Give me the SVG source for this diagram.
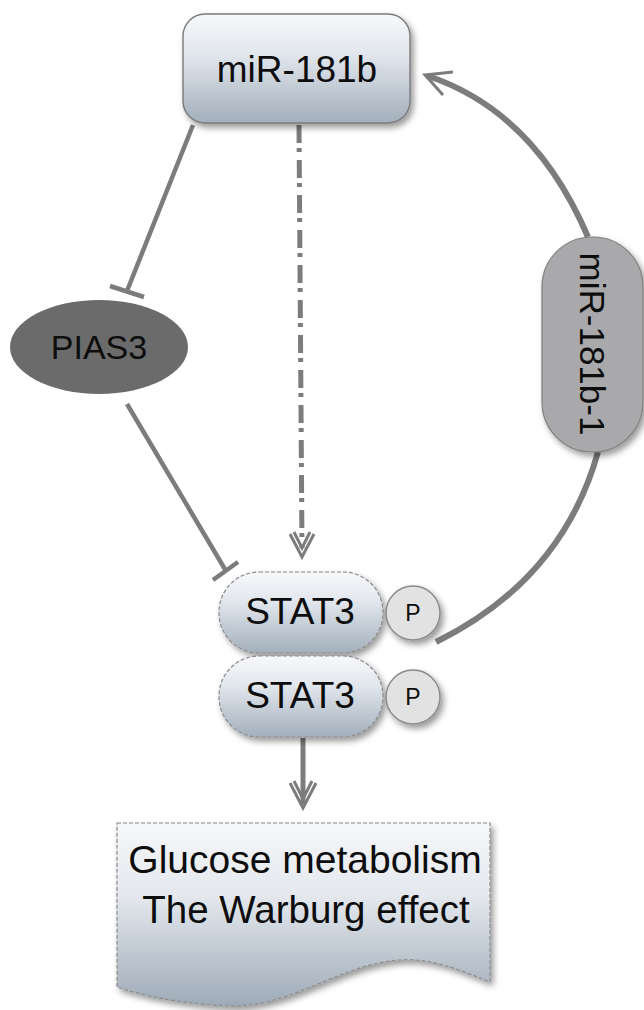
<svg xmlns="http://www.w3.org/2000/svg" width="644" height="1010" viewBox="0 0 644 1010">
  <defs>
    <linearGradient id="blueGrey" x1="0" y1="0" x2="0" y2="1">
      <stop offset="0" stop-color="#f7f8fa"/>
      <stop offset="0.35" stop-color="#e3e8ee"/>
      <stop offset="1" stop-color="#a3afbc"/>
    </linearGradient>
    <linearGradient id="docGrad" x1="0" y1="0" x2="0" y2="1">
      <stop offset="0" stop-color="#f6f7f9"/>
      <stop offset="0.4" stop-color="#e4e8ed"/>
      <stop offset="1" stop-color="#9eabb8"/>
    </linearGradient>
    <filter id="shadow" x="-20%" y="-20%" width="140%" height="150%">
      <feDropShadow dx="3" dy="4" stdDeviation="3" flood-color="#000" flood-opacity="0.4"/>
    </filter>
    <style>
      .lbl { font-family: "Liberation Sans", Arial, sans-serif; fill: #0d0d0d; text-anchor: middle; }
      .conn { fill: none; stroke: #7c7c7c; stroke-linecap: butt; }
      .head { fill: none; stroke: #7c7c7c; stroke-width: 3; stroke-linejoin: miter; }
      .stat { fill: url(#blueGrey); stroke: #8a8a8a; stroke-width: 1.2; stroke-dasharray: 4 2; }
      .phos { fill: #e2e2e2; stroke: #8a8a8a; stroke-width: 1.5; }
    </style>
  </defs>

  <!-- connectors -->
  <g id="connectors">
    <!-- miR-181b inhibits PIAS3 -->
    <line class="conn" x1="193" y1="125" x2="127" y2="291" stroke-width="4.5"/>
    <line class="conn" x1="110" y1="286" x2="144" y2="297" stroke-width="4.5"/>
    <!-- PIAS3 inhibits STAT3 -->
    <line class="conn" x1="127" y1="404" x2="226" y2="571" stroke-width="4.5"/>
    <line class="conn" x1="213" y1="580" x2="238" y2="562" stroke-width="4.5"/>
    <!-- miR-181b to STAT3 (dash-dot) -->
    <line class="conn" x1="299" y1="125" x2="302" y2="548" stroke-width="5" stroke-dasharray="18 5 4 8"/>
    <polyline class="head" points="290,534 302,557 314,534"/>
    <polyline class="head" points="294,532 302,548 310,532" stroke-width="2"/>
    <!-- phospho-STAT3 to miR-181b-1 -->
    <path class="conn" d="M 436 642 Q 562 580 598 452" stroke-width="6"/>
    <!-- miR-181b-1 back to miR-181b -->
    <path class="conn" d="M 588 237 Q 535 112 428 76" stroke-width="6"/>
    <polyline class="head" points="453,72 425,75 443,95" stroke-width="4"/>
    <!-- STAT3 dimer to glucose metabolism -->
    <line class="conn" x1="303" y1="738" x2="303" y2="804" stroke-width="5"/>
    <polyline class="head" points="290,783 303,808 316,783"/>
    <polyline class="head" points="294,781 303,799 312,781" stroke-width="2"/>
  </g>

  <g id="mir181b">
    <rect x="183" y="14" width="227" height="109" rx="22" fill="url(#blueGrey)" stroke="#7a7a7a" stroke-width="1.4" filter="url(#shadow)"/>
    <text class="lbl" x="297" y="82" font-size="37">miR-181b</text>
  </g>

  <g id="pias3">
    <ellipse cx="99" cy="347" rx="89" ry="47" fill="#6b6b6b"/>
    <text class="lbl" x="99" y="359" font-size="34">PIAS3</text>
  </g>

  <g id="mir181b1">
    <rect x="542" y="237" width="101" height="215" rx="50" fill="#a9a9ab" stroke="#7f7f7f" stroke-width="1.2" filter="url(#shadow)"/>
    <text class="lbl" x="0" y="0" font-size="35" transform="translate(580 344) rotate(90)">miR-181b-1</text>
  </g>

  <g id="stat3a">
    <rect class="stat" x="219" y="572" width="164" height="81" rx="40" filter="url(#shadow)"/>
    <text class="lbl" x="300" y="624" font-size="37">STAT3</text>
  </g>
  <g id="p1">
    <circle class="phos" cx="413" cy="613" r="27" filter="url(#shadow)"/>
    <text class="lbl" x="413" y="621" font-size="23">P</text>
  </g>

  <g id="stat3b">
    <rect class="stat" x="219" y="656" width="164" height="81" rx="40" filter="url(#shadow)"/>
    <text class="lbl" x="300" y="708" font-size="37">STAT3</text>
  </g>
  <g id="p2">
    <circle class="phos" cx="413" cy="697" r="27" filter="url(#shadow)"/>
    <text class="lbl" x="413" y="705" font-size="23">P</text>
  </g>

  <g id="outcome">
    <path d="M 117 823 L 490 823 L 490 982 C 455 968 430 958 400 960 C 340 964 290 1008 230 1006 C 180 1004 140 995 117 987 Z" fill="url(#docGrad)" stroke="#8a8a8a" stroke-width="1.2" stroke-dasharray="4 2" filter="url(#shadow)"/>
    <text class="lbl" x="305" y="873" font-size="39">Glucose metabolism</text>
    <text class="lbl" x="306" y="923" font-size="38.5">The Warburg effect</text>
  </g>
</svg>
